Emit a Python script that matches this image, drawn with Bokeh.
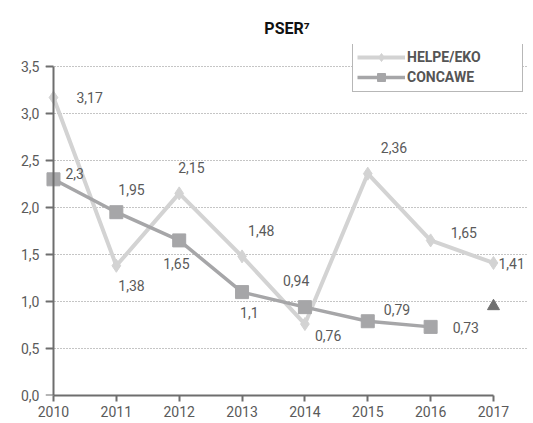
from bokeh.plotting import figure
from bokeh.models import (ColumnDataSource, Legend, LegendItem, FixedTicker, Title, LinearAxis)
from bokeh.core.properties import value
from bokeh.embed import file_html
from bokeh.resources import INLINE

# ---- data ----
years = [2010, 2011, 2012, 2013, 2014, 2015, 2016, 2017]
helpe_eko = [3.17, 1.38, 2.15, 1.48, 0.76, 2.36, 1.65, 1.41]
concawe_years = [2010, 2011, 2012, 2013, 2014, 2015, 2016]
concawe = [2.3, 1.95, 1.65, 1.1, 0.94, 0.79, 0.73]
target_year = [2017]
target_value = [0.95]
y_ticks = [0.0, 0.5, 1.0, 1.5, 2.0, 2.5, 3.0, 3.5]

# ---- label placement (screen px offsets) ----
helpe_dx = [23, 2, -1, 6, 10, 13, 20, 5]
helpe_dy = [0, 20, -26, -26, 11, -26, -8, 1]
conc_dx = [12, 2, -16, -2, -22, 16, 22]
conc_dy = [-6, -23, 23, 20, -27, -12, 1]

FONT = "Roboto"
TXT = "#5a5a5a"
AX = "#6e6e6e"
C_HELPE = "#d3d3d3"
C_CONC = "#a6a6a8"

def fmt(v):
    return f"{v:g}".replace(".", ",")

p = figure(width=533, height=423, x_range=(2009.873, 2017.557), y_range=(0, 3.734),
           output_backend="svg", toolbar_location=None,
           min_border_left=45, min_border_right=5, min_border_top=44,
           min_border_bottom=28)
p.outline_line_color = None
p.background_fill_color = "white"

p.title = Title(text="PSER\u2077", align="center", text_font=FONT, text_font_size="16px",
                text_font_style="bold", text_color="#111111", offset=3, standoff=13)

# x axis
xa = p.xaxis[0]
xa.ticker = FixedTicker(ticks=years)
xa.bounds = (years[0], years[-1])
xa.axis_line_color = AX
xa.axis_line_width = 2
xa.major_tick_line_color = AX
xa.major_tick_line_width = 2
xa.minor_tick_line_color = None
xa.major_tick_in = 0
xa.major_tick_out = 6
xa.major_label_standoff = 4
xa.major_label_text_font = FONT
xa.major_label_text_font_size = "14px"
xa.major_label_text_color = TXT

# y axis: labels in the left panel
ya = p.yaxis[0]
ya.ticker = FixedTicker(ticks=y_ticks)
ya.axis_line_color = None
ya.major_tick_line_color = None
ya.minor_tick_line_color = None
ya.major_tick_in = 0
ya.major_tick_out = 0
ya.major_label_standoff = 6
ya.major_label_text_font = FONT
ya.major_label_text_font_size = "14px"
ya.major_label_text_color = TXT
ya.major_label_overrides = {t_: f"{t_:.1f}".replace(".", ",") for t_ in y_ticks}

# y axis line + ticks drawn at 2010
ya2 = LinearAxis(ticker=FixedTicker(ticks=y_ticks), fixed_location=years[0],
                 bounds=(y_ticks[0], y_ticks[-1]),
                 axis_line_color=AX, axis_line_width=2,
                 major_tick_line_color=AX, major_tick_line_width=2,
                 major_tick_in=0, major_tick_out=8, minor_tick_line_color=None,
                 major_label_text_font_size="0px", major_label_text_alpha=0)
p.add_layout(ya2, "left")

p.xgrid.grid_line_color = None
p.ygrid.ticker = FixedTicker(ticks=y_ticks[1:])
p.ygrid.bounds = (years[0] + 0.13, years[-1] + 0.03)
p.ygrid.grid_line_color = "#8a8a8a"
p.ygrid.grid_line_dash = "1 2"
p.ygrid.grid_line_width = 1

src_h = ColumnDataSource(dict(x=years, y=helpe_eko, lab=[fmt(v) for v in helpe_eko],
                              dx=helpe_dx, dy=helpe_dy))
src_c = ColumnDataSource(dict(x=concawe_years, y=concawe, lab=[fmt(v) for v in concawe],
                              dx=conc_dx, dy=conc_dy))

lh = p.line("x", "y", source=src_h, line_color=C_HELPE, line_width=4)
sh = p.scatter("x", "y", source=src_h, marker="diamond", size=13, fill_color=C_HELPE,
               line_color=C_HELPE)
lc = p.line("x", "y", source=src_c, line_color=C_CONC, line_width=3.5)
sc = p.scatter("x", "y", source=src_c, marker="square", size=13, fill_color=C_CONC,
               line_color=C_CONC)
p.scatter(target_year, target_value, marker="triangle", size=12, fill_color="#707070",
          line_color="#707070")

for src in (src_h, src_c):
    p.text("x", "y", text="lab", source=src, x_offset="dx", y_offset="dy",
           text_font=value(FONT), text_font_size="14px", text_color=TXT,
           text_align="left", text_baseline="middle")

legend = Legend(items=[LegendItem(label="HELPE/EKO", renderers=[lh, sh]),
                       LegendItem(label="CONCAWE", renderers=[lc, sc])],
                location=(307, 303), orientation="vertical",
                label_text_font=FONT, label_text_font_size="14px",
                label_text_font_style="bold", label_text_color="#555555",
                glyph_width=48, glyph_height=20, spacing=0, padding=4,
                margin=0, label_standoff=2, label_width=111, label_height=20,
                border_line_color="#707070", border_line_width=1,
                background_fill_color="white", background_fill_alpha=1)
p.add_layout(legend, "center")

open("out.html", "w").write(file_html(p, INLINE))
